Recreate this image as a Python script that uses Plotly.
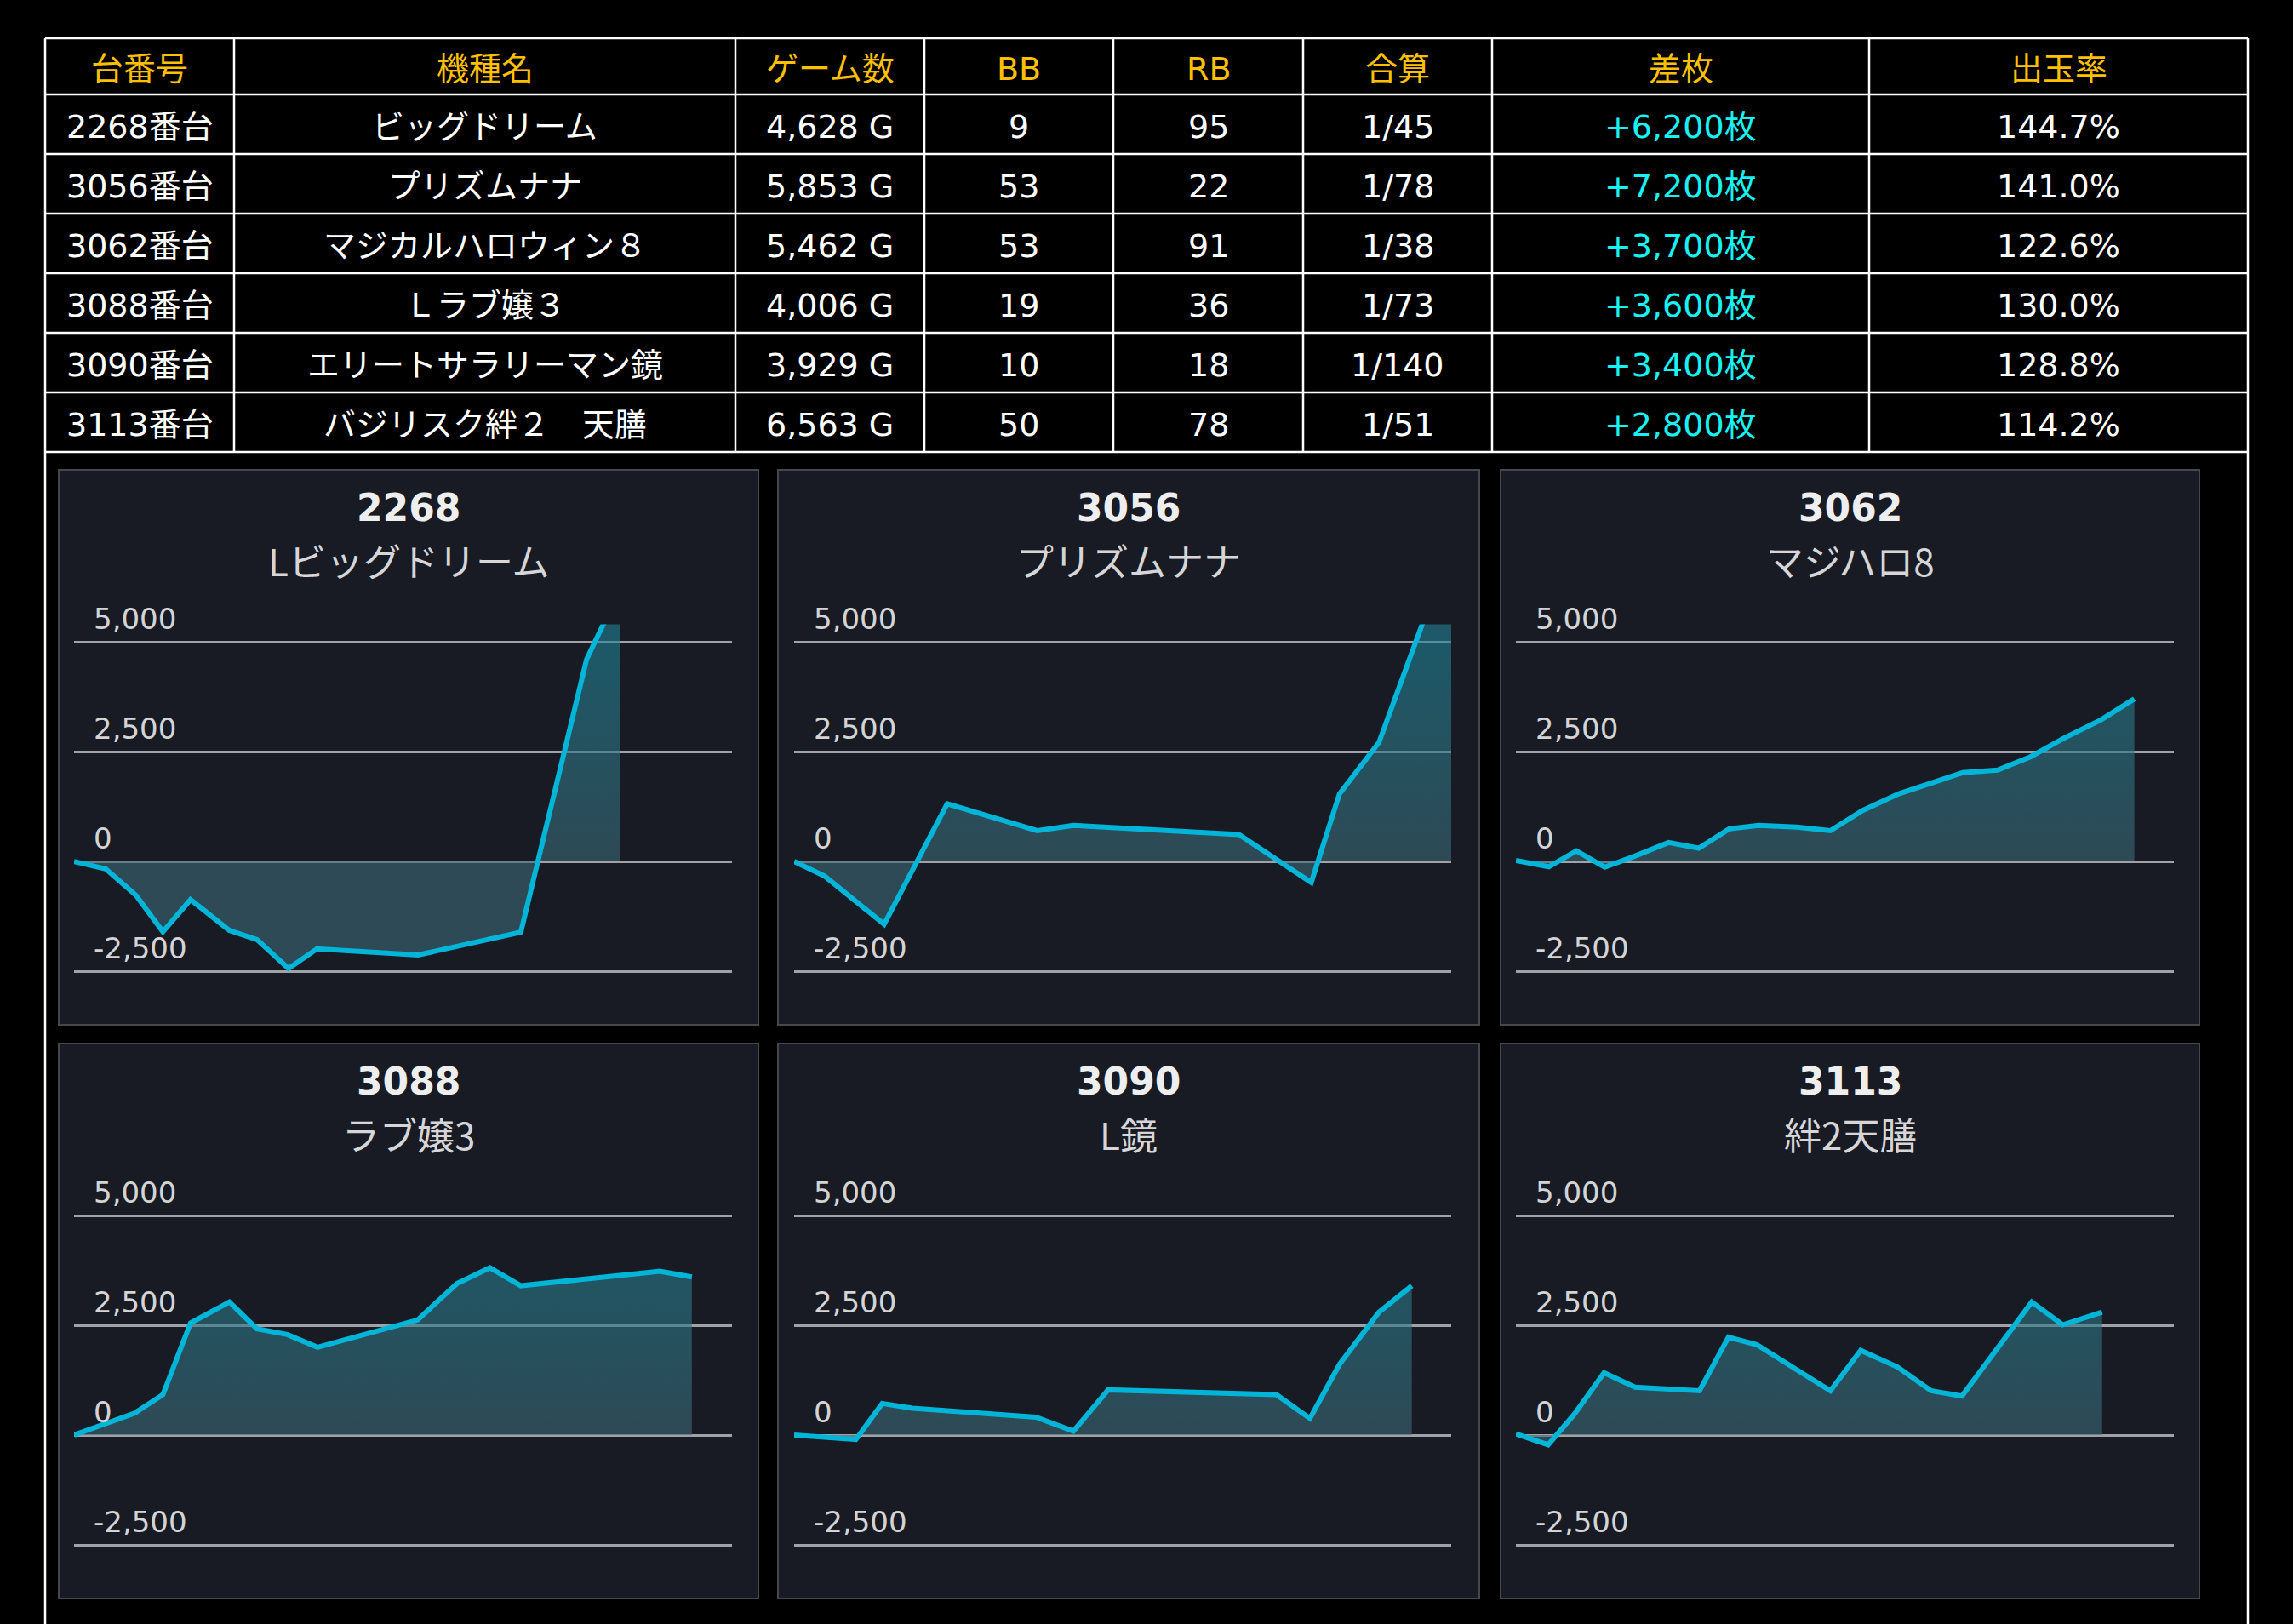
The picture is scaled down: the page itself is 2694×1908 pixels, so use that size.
import plotly.graph_objects as go

# ---------------- table data ----------------
headers = ["台番号", "機種名", "ゲーム数", "BB", "RB", "合算", "差枚", "出玉率"]
machine_no = ["2268番台", "3056番台", "3062番台", "3088番台", "3090番台", "3113番台"]
machine_name = ["ビッグドリーム", "プリズムナナ", "マジカルハロウィン８", "Ｌラブ嬢３",
                "エリートサラリーマン鏡", "バジリスク絆２　天膳"]
games = ["4,628 G", "5,853 G", "5,462 G", "4,006 G", "3,929 G", "6,563 G"]
bb = ["9", "53", "53", "19", "10", "50"]
rb = ["95", "22", "91", "36", "18", "78"]
combined = ["1/45", "1/78", "1/38", "1/73", "1/140", "1/51"]
diff = ["+6,200枚", "+7,200枚", "+3,700枚", "+3,600枚", "+3,400枚", "+2,800枚"]
payout = ["144.7%", "141.0%", "122.6%", "130.0%", "128.8%", "114.2%"]

# ---------------- chart data ----------------
chart_ids = ["2268", "3056", "3062", "3088", "3090", "3113"]
chart_names = ["Lビッグドリーム", "プリズムナナ", "マジハロ8", "ラブ嬢3", "L鏡", "絆2天膳"]

x_2268 = [0, 4.8, 9.4, 13.5, 17.7, 23.6, 27.8, 32.6, 36.9, 52.3, 67.9, 77.9, 83.0]
y_2268 = [0, -170, -770, -1600, -870, -1570, -1780, -2440, -1990, -2130, -1610, 4600, 6200]

x_3056 = [0, 4.7, 13.7, 23.3, 37.0, 42.5, 67.7, 73.7, 78.7, 83.0, 89.0, 100]
y_3056 = [0, -340, -1430, 1310, 700, 820, 610, 30, -480, 1540, 2710, 7200]

x_3062 = [0, 5.0, 9.2, 13.5, 17.9, 23.2, 27.8, 32.4, 36.9, 42.7, 47.8, 52.7, 58.2,
          63.0, 67.9, 73.2, 78.2, 83.2, 88.9, 94.0]
y_3062 = [20, -120, 240, -130, 110, 430, 300, 740, 820, 780, 700, 1160, 1540,
          1790, 2020, 2080, 2380, 2800, 3220, 3700]

x_3088 = [0, 9.2, 13.5, 17.7, 23.6, 27.8, 32.4, 37.0, 52.2, 58.2, 63.2, 67.9, 78.9, 89.0, 93.9]
y_3088 = [0, 500, 920, 2550, 3030, 2420, 2290, 2000, 2620, 3450, 3810, 3400, 3570, 3730, 3600]

x_3090 = [0, 9.4, 13.4, 18.0, 36.8, 42.5, 47.8, 73.4, 78.5, 83.0, 89.0, 94.0]
y_3090 = [0, -100, 720, 610, 410, 90, 1030, 920, 380, 1610, 2800, 3400]

x_3113 = [0, 4.9, 8.9, 13.4, 18.1, 27.9, 32.3, 36.6, 47.8, 52.4, 58.0, 63.1, 67.8,
          78.4, 83.1, 89.1]
y_3113 = [30, -220, 480, 1420, 1090, 1010, 2230, 2060, 1010, 1930, 1550, 1010, 890,
          3030, 2510, 2800]

chart_x = [x_2268, x_3056, x_3062, x_3088, x_3090, x_3113]
chart_y = [y_2268, y_3056, y_3062, y_3088, y_3090, y_3113]
y_ticks = [-2500, 0, 2500, 5000]

# ---------------- layout constants (pixels) ----------------
W, H = 2694, 1908
col_edges = [53, 275, 864, 1086, 1308, 1531, 1753, 2196, 2641]
row_edges = [45, 111, 181, 251, 321, 391, 461, 531]
panel_x = [(69, 891), (914, 1738), (1763, 2584)]
panel_y = [(552, 1204), (1226, 1878)]
grid_x = [(87, 860), (933, 1705), (1781, 2554)]
plot_y = [(733.4, 1187.5), (1407.4, 1861.5)]
Y_RANGE = [-3400, 5400]

def px(x):
    return x / W

def py(y):
    return 1 - y / H

FONT_TBL = "DejaVu Sans, Noto Sans CJK JP, sans-serif"
FONT_CJK = "Noto Sans CJK JP, DejaVu Sans, sans-serif"

fig = go.Figure()
shapes = []
annotations = []

# ---------------- table ----------------
for cx in col_edges:
    shapes.append(dict(type="line", xref="paper", yref="paper",
                       x0=px(cx), x1=px(cx), y0=py(row_edges[0]), y1=py(row_edges[-1]),
                       line=dict(color="white", width=2.5), layer="above"))
for ry in row_edges:
    shapes.append(dict(type="line", xref="paper", yref="paper",
                       x0=px(col_edges[0]), x1=px(col_edges[-1]), y0=py(ry), y1=py(ry),
                       line=dict(color="white", width=2.5), layer="above"))
# outer frame continuing below the table
for cx in (col_edges[0], col_edges[-1]):
    shapes.append(dict(type="line", xref="paper", yref="paper",
                       x0=px(cx), x1=px(cx), y0=py(row_edges[-1]), y1=0,
                       line=dict(color="white", width=2.5), layer="above"))

def cell_text(ci, ri, text, color):
    xc = (col_edges[ci] + col_edges[ci + 1]) / 2
    yc = (row_edges[ri] + row_edges[ri + 1]) / 2 + 3
    annotations.append(dict(xref="paper", yref="paper", x=px(xc), y=py(yc),
                            text=text, showarrow=False, xanchor="center", yanchor="middle",
                            font=dict(family=FONT_TBL, size=38, color=color)))

for ci, h in enumerate(headers):
    cell_text(ci, 0, h, "#FFC000")

columns = [machine_no, machine_name, games, bb, rb, combined, diff, payout]
for ci, col in enumerate(columns):
    color = "#19F2F2" if ci == 6 else "white"
    for ri, val in enumerate(col):
        cell_text(ci, ri + 1, val, color)

# ---------------- charts ----------------
for i in range(6):
    r, c = divmod(i, 3)
    n = i + 1
    xa = "x" if n == 1 else f"x{n}"
    ya = "y" if n == 1 else f"y{n}"
    # panel background
    shapes.append(dict(type="rect", xref="paper", yref="paper",
                       x0=px(panel_x[c][0]), x1=px(panel_x[c][1]),
                       y0=py(panel_y[r][1]), y1=py(panel_y[r][0]),
                       fillcolor="#181b23", line=dict(color="#45474d", width=2), layer="below"))
    fig.add_trace(go.Scatter(
        x=chart_x[i], y=chart_y[i], mode="lines", xaxis=xa, yaxis=ya,
        line=dict(color="#00B5D8", width=6),
        fill="tozeroy",
        fillgradient=dict(type="vertical", start=0, stop=5000,
                          colorscale=[[0, "rgba(60,105,119,0.6)"], [1, "rgba(32,130,150,0.6)"]]),
        showlegend=False, hoverinfo="skip"))
    xdom = [px(grid_x[c][0]), px(grid_x[c][1])]
    ydom = [py(plot_y[r][1]), py(plot_y[r][0])]
    fig.update_layout(**{
        ("xaxis" if n == 1 else f"xaxis{n}"): dict(domain=xdom, range=[0, 100], visible=False,
                                                     anchor=ya),
        ("yaxis" if n == 1 else f"yaxis{n}"): dict(domain=ydom, range=Y_RANGE, anchor=xa,
                                                     tickvals=y_ticks, showticklabels=False,
                                                     showgrid=True, gridcolor="#a0a2a8",
                                                     gridwidth=3, zeroline=False,
                                                     showline=False, ticks=""),
    })
    # tick labels above grid lines
    for tv in y_ticks:
        annotations.append(dict(xref=f"{xa} domain", yref=ya, x=0, y=tv,
                                xshift=21, yshift=27, xanchor="left", yanchor="middle",
                                text=f"{tv:,}", showarrow=False,
                                font=dict(family="DejaVu Sans", size=34, color="#d4d4d6")))
    pcx = (panel_x[c][0] + panel_x[c][1]) / 2
    annotations.append(dict(xref="paper", yref="paper", x=px(pcx), y=py(596 + 674 * r),
                            text=f"<b>{chart_ids[i]}</b>", showarrow=False,
                            xanchor="center", yanchor="middle",
                            font=dict(family="DejaVu Sans", size=44, color="#eeeeee")))
    annotations.append(dict(xref="paper", yref="paper", x=px(pcx), y=py(658 + 674 * r),
                            text=chart_names[i], showarrow=False,
                            xanchor="center", yanchor="middle",
                            font=dict(family=FONT_CJK, size=44, color="#d6d6d8")))

fig.update_layout(width=W, height=H, margin=dict(l=0, r=0, t=0, b=0),
                  paper_bgcolor="black", plot_bgcolor="rgba(0,0,0,0)",
                  shapes=shapes, annotations=annotations)

fig.write_html(
    "out.html",
    config={"displayModeBar": False},
    post_script=("document.documentElement.style.margin='0';"
                 "document.documentElement.style.background='black';"
                 "document.documentElement.style.overflow='hidden';"
                 "document.body.style.margin='0';"
                 "document.body.style.padding='0';"
                 "document.body.style.background='black';"
                 "document.body.style.overflow='hidden';"),
)
